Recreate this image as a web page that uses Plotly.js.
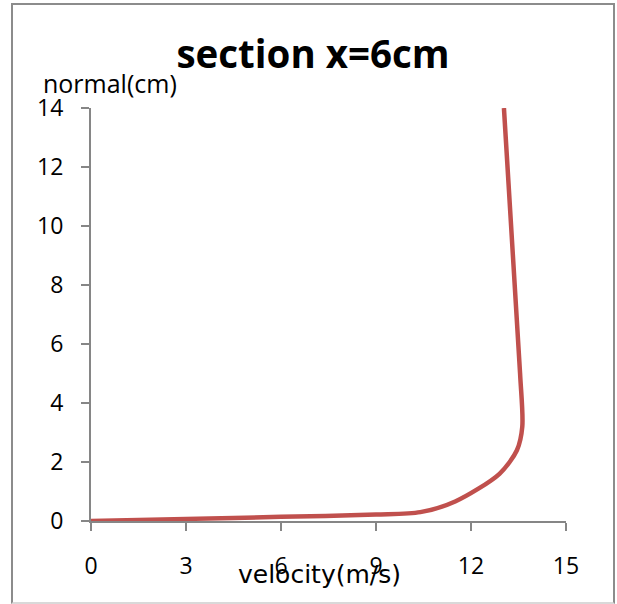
<!DOCTYPE html>
<html>
<head>
<meta charset="utf-8">
<script src="https://cdn.plot.ly/plotly-3.0.1.min.js"></script>
<style>
  html, body { margin: 0; padding: 0; background: #fff; }
  #wrap { position: relative; width: 617px; height: 604px; }
  #chart { position: absolute; left: 0; top: 0; width: 617px; height: 604px; }
  #frame { position: absolute; left: 11px; top: 3px; width: 600px; height: 597px;
           border: 2px solid #8c8c8c; border-bottom-color: #d9d9d9; pointer-events: none; }
</style>
</head>
<body>
<div id="wrap">
  <div id="chart"></div>
  <div id="frame"></div>
</div>
<script>
const chartTitle = "section x=6cm";
const xLabel = "velocity(m/s)";
const yLabel = "normal(cm)";
const velocity = [0, 3, 6, 9, 10.4, 11.5, 12.9, 13.45, 13.62, 13.55, 13.04];
const normal   = [0, 0.07, 0.14, 0.22, 0.3, 0.66, 1.6, 2.4, 3.2, 5, 14];
const xTicks = [0, 3, 6, 9, 12, 15];
const yTicks = [0, 2, 4, 6, 8, 10, 12, 14];

const axisColor = "#868686";
const tickFont = { family: "Open Sans", size: 23, color: "#000" };

const trace = {
  x: velocity, y: normal, type: "scatter", mode: "lines",
  line: { color: "#C0504D", width: 4.5, shape: "spline", smoothing: 0.8 },
  hoverinfo: "skip"
};

const layout = {
  width: 617, height: 604,
  margin: { l: 91, r: 51, t: 108, b: 83 },
  paper_bgcolor: "#fff", plot_bgcolor: "#fff",
  showlegend: false,
  title: {
    text: "<b>" + chartTitle + "</b>",
    font: { family: "Open Sans", size: 38.5, color: "#000" },
    x: 313 / 617, xanchor: "center", xref: "container",
    y: 1 - 55 / 604, yanchor: "middle", yref: "container"
  },
  xaxis: {
    range: [0, 15], tickvals: xTicks, ticktext: xTicks.map(String),
    showgrid: false, zeroline: false, showline: true,
    linecolor: axisColor, linewidth: 2,
    ticks: "outside", ticklen: 8, tickwidth: 2, tickcolor: axisColor,
    ticklabelstandoff: 15, tickfont: tickFont, fixedrange: true
  },
  yaxis: {
    range: [0, 14], tickvals: yTicks, ticktext: yTicks.map(String),
    showgrid: false, zeroline: false, showline: true,
    linecolor: axisColor, linewidth: 2,
    ticks: "outside", ticklen: 8, tickwidth: 2, tickcolor: axisColor,
    ticklabelstandoff: 13, tickfont: tickFont, fixedrange: true
  },
  annotations: [
    {
      text: yLabel, xref: "paper", yref: "paper",
      x: (41 - 91) / 475, y: (520.7 - 83) / 412.7,
      xanchor: "left", yanchor: "middle", showarrow: false,
      font: { family: "Open Sans", size: 25, color: "#000" }
    },
    {
      text: xLabel, xref: "paper", yref: "paper",
      x: (319 - 91) / 475, y: (520.7 - 574) / 412.7,
      xanchor: "center", yanchor: "middle", showarrow: false,
      font: { family: "DejaVu Sans", size: 25, color: "#000" }
    }
  ]
};

Plotly.newPlot("chart", [trace], layout, { displayModeBar: false, staticPlot: true });
</script>
</body>
</html>
